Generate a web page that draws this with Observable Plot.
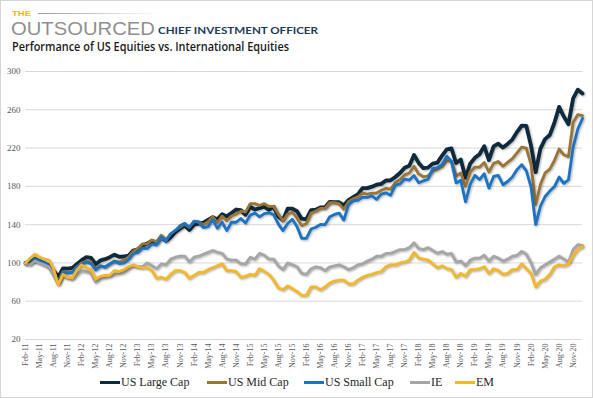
<!DOCTYPE html>
<html><head><meta charset="utf-8">
<script src="https://cdn.jsdelivr.net/npm/d3@7"></script>
<script src="https://cdn.jsdelivr.net/npm/@observablehq/plot@0.6"></script>
<style>
html,body{margin:0;padding:0;background:#fff;}
#wrap{position:relative;width:593px;height:398px;overflow:hidden;background:#fff;}
#frame{position:absolute;left:0;top:0;width:593px;height:398px;box-sizing:border-box;border:1px solid #d6d6d6;pointer-events:none;}
#hdr{position:absolute;left:0;top:0;}
#chart{position:absolute;left:0;top:59px;}
#chart g[aria-label="line"]{filter:drop-shadow(1px 1.5px 1px rgba(0,0,0,0.33));}
.leg{position:absolute;top:374px;height:16px;display:flex;align-items:center;font-family:'Liberation Serif','Times New Roman',serif;font-size:12px;color:#262626;white-space:nowrap;}
.sw{display:inline-block;width:20px;height:3px;margin-right:1px;}
</style></head>
<body>
<div id="wrap">
<svg id="hdr" width="593" height="58">
  <defs><linearGradient id="fade" x1="0" x2="1" y1="0" y2="0"><stop offset="0" stop-color="#9a9a9a"/><stop offset="1" stop-color="#9a9a9a" stop-opacity="0"/></linearGradient></defs>
  <text x="12" y="15.8" font-family="'Liberation Sans'" font-weight="700" font-size="7.5" fill="#f2b31c" textLength="19" lengthAdjust="spacingAndGlyphs">THE</text>
  <rect x="38" y="13" width="122" height="1" fill="url(#fade)"/>
  <text x="11" y="35" font-family="'Liberation Sans'" font-size="19" fill="#8f8f8f" textLength="144" lengthAdjust="spacingAndGlyphs">OUTSOURCED</text>
  <text x="158" y="34.3" font-family="Lato" font-weight="700" font-size="9.8" fill="#1d3a57" textLength="160" lengthAdjust="spacingAndGlyphs">CHIEF INVESTMENT OFFICER</text>
  <text x="12" y="50.5" font-family="'Open Sans'" font-weight="600" font-size="12" fill="#1a1a1a" textLength="277" lengthAdjust="spacingAndGlyphs">Performance of US Equities vs. International Equities</text>
</svg>
<div id="chart"></div>
<div id="legend"></div>
<div id="frame"></div>
</div>
<script>
// Monthly index levels, Feb-11 .. Jan-21 (120 months)
const seriesNames = ["US Large Cap", "US Mid Cap", "US Small Cap", "IE", "EM"];
const seriesColors = ["#0f2a3d", "#9b7535", "#1a73c6", "#a6a6a6", "#f6b727"];
const seriesWidths = [3.8, 2.8, 2.8, 2.8, 2.8];

const usLargeCap = [
  100, 99.9, 102.8, 101.4, 99.5, 97.4, 91.9, 85.2, 94.4, 94.0, 94.8,
  98.9, 102.9, 106.1, 105.4, 98.7, 102.6, 103.9, 106.0, 108.6, 106.4, 106.7, 107.5,
  112.9, 114.2, 118.2, 120.4, 122.9, 121.0, 127.1, 123.1, 126.8, 132.4, 136.1, 139.3,
  134.4, 140.1, 141.1, 142.0, 145.0, 147.7, 145.5, 150.9, 148.6, 152.1, 155.8, 155.2,
  150.3, 158.6, 155.8, 157.2, 158.8, 155.5, 158.6, 148.6, 144.7, 156.7, 156.7, 154.0,
  146.2, 145.6, 155.2, 155.6, 158.0, 158.2, 163.8, 163.6, 163.4, 160.2, 165.7, 168.7,
  171.7, 178.1, 178.1, 179.7, 181.8, 182.6, 186.1, 186.3, 189.8, 194.0, 199.5, 201.5,
  212.8, 204.5, 199.0, 199.5, 203.8, 204.8, 212.2, 218.7, 219.6, 204.4, 208.0, 188.9,
  203.8, 209.8, 213.6, 222.0, 207.4, 221.7, 224.6, 220.5, 224.3, 228.9, 236.7, 243.5,
  243.1, 222.6, 194.8, 219.4, 229.4, 233.6, 246.5, 263.0, 253.0, 245.0, 272.0, 281.0,
  277.0
];
const usMidCap = [
  100, 101, 103, 101, 99, 96, 89, 81, 91, 90, 91,
  96, 100, 102, 101, 94, 97, 96, 99, 102, 101, 103, 106,
  112, 115, 120, 120, 124, 122, 129, 124, 130, 134, 137, 140,
  137, 143, 143, 140, 143, 148, 142, 149, 144, 149, 151, 154,
  153, 162, 162, 160, 162, 159, 159, 151, 144, 151, 153, 147,
  139, 141, 152, 154, 157, 157, 163, 163, 162, 156, 164, 167,
  169, 173, 172, 173, 173, 176, 178, 177, 184, 187, 192, 194,
  201, 193, 190, 191, 196, 198, 201, 207, 206, 191, 194, 180,
  195, 200, 200, 205, 195, 204, 206, 201, 205, 209, 215, 221,
  220, 203, 161, 182, 194, 198, 207, 219, 213, 211, 247, 255,
  254
];
const usSmallCap = [
  100, 102.6, 105.1, 103.0, 100.5, 96.8, 88.2, 79.0, 90.0, 89.6, 90.0,
  96.2, 98.4, 100.9, 99.3, 92.6, 97.0, 95.5, 98.7, 101.7, 99.4, 99.9, 103.2,
  109.6, 110.7, 115.6, 115.1, 119.6, 118.7, 127.0, 122.7, 130.4, 133.7, 138.8, 141.4,
  137.3, 143.7, 142.5, 136.8, 137.9, 145.0, 136.1, 142.7, 133.8, 142.5, 142.5, 146.4,
  141.6, 149.8, 152.2, 148.2, 151.5, 152.4, 150.5, 140.8, 133.8, 141.2, 145.6, 138.0,
  125.8, 125.6, 135.4, 137.3, 140.2, 140.0, 148.2, 150.7, 152.1, 144.7, 160.6, 164.9,
  165.5, 168.5, 168.4, 170.1, 166.5, 171.9, 173.2, 170.7, 181.2, 182.5, 187.6, 186.6,
  191.4, 183.7, 185.8, 187.4, 198.5, 199.6, 203.0, 211.4, 206.1, 183.6, 186.3, 163.9,
  182.1, 191.5, 187.1, 193.3, 178.1, 190.4, 191.4, 181.7, 185.1, 189.8, 197.5, 202.7,
  196.1, 179.4, 140.1, 159.2, 169.4, 175.1, 179.8, 189.7, 183.1, 186.9, 221.0, 240.0,
  251.0
];
const ie = [
  99, 98, 102, 100, 98, 96, 88, 78, 87, 84, 83,
  88, 92, 91, 89, 80, 84, 85, 86, 88, 89, 90, 94,
  97, 96, 96, 100, 97, 94, 99, 98, 104, 106, 107, 107,
  101, 106, 107, 109, 111, 113, 111, 110, 104, 103, 103, 99,
  99, 106, 104, 110, 108, 104, 104, 97, 93, 100, 98, 96,
  89, 88, 94, 96, 95, 92, 96, 97, 98, 96, 93, 95,
  98, 99, 102, 104, 107, 107, 110, 110, 112, 114, 114, 116,
  121, 115, 114, 116, 113, 110, 112, 109, 110, 101, 102, 97,
  103, 105, 105, 108, 102, 107, 105, 102, 104, 107, 108, 112,
  109, 100, 88, 95, 98, 101, 104, 107, 104, 101, 114, 119,
  118
];
const em = [
  100, 105, 109, 106, 104, 103, 94, 77, 88, 85, 84,
  93, 98, 95, 93, 83, 86, 87, 87, 92, 91, 93, 96,
  98, 96, 95, 95, 92, 84, 85, 83, 88, 92, 92, 90,
  84, 87, 90, 90, 93, 95, 97, 99, 92, 92, 91, 85,
  86, 88, 87, 94, 91, 88, 82, 74, 72, 76, 73, 70,
  66, 66, 75, 75, 72, 75, 79, 81, 82, 82, 78, 78,
  82, 85, 87, 88, 90, 91, 96, 98, 98, 100, 101, 103,
  111, 105, 104, 103, 99, 95, 97, 94, 93, 85, 89, 86,
  93, 93, 94, 96, 89, 94, 92, 88, 89, 93, 93, 99,
  94, 89, 75, 81, 83, 88, 96, 98, 97, 99, 108, 114,
  117
];

const xTickLabels = [
  "Feb-11","May-11","Aug-11","Nov-11","Feb-12","May-12","Aug-12","Nov-12",
  "Feb-13","May-13","Aug-13","Nov-13","Feb-14","May-14","Aug-14","Nov-14",
  "Feb-15","May-15","Aug-15","Nov-15","Feb-16","May-16","Aug-16","Nov-16",
  "Feb-17","May-17","Aug-17","Nov-17","Feb-18","May-18","Aug-18","Nov-18",
  "Feb-19","May-19","Aug-19","Nov-19","Feb-20","May-20","Aug-20","Nov-20"
];
const yTicks = [20, 60, 100, 140, 180, 220, 260, 300];

const allValues = [usLargeCap, usMidCap, usSmallCap, ie, em];
const tickIdx = xTickLabels.map((_, k) => k * 3);

const lineMarks = allValues.map((vals, s) =>
  Plot.line(vals, {x: (d, i) => i, y: d => d, stroke: seriesColors[s], strokeWidth: seriesWidths[s], strokeLinejoin: "round", strokeLinecap: "round"})
);

const chart = Plot.plot({
  width: 593, height: 312,
  marginTop: 12, marginBottom: 32, marginLeft: 25, marginRight: 11,
  style: {fontFamily: "'Liberation Serif','Times New Roman',serif", color: "#595959", background: "transparent", overflow: "visible"},
  x: {type: "linear", domain: [0, usLargeCap.length - 1]},
  y: {domain: [20, 300]},
  marks: [
    Plot.ruleY(yTicks, {stroke: "#d9d9d9", strokeWidth: 1}),
    Plot.axisY({ticks: yTicks, tickSize: 0, tickPadding: 5, label: null, fontSize: 9, fill: "#595959"}),
    Plot.axisX({ticks: tickIdx, tickFormat: i => xTickLabels[i / 3], tickRotate: -90, tickSize: 0, tickPadding: 4, label: null, fontSize: 8, fill: "#595959"}),
    ...lineMarks
  ]
});
document.getElementById("chart").appendChild(chart);

const legendLefts = [100, 207, 304, 410, 455];
const leg = document.getElementById("legend");
seriesNames.forEach((n, s) => {
  const d = document.createElement("div");
  d.className = "leg";
  d.style.left = legendLefts[s] + "px";
  d.innerHTML = `<span class="sw" style="background:${seriesColors[s]}"></span><span>${n}</span>`;
  leg.appendChild(d);
});
</script>
</body></html>
